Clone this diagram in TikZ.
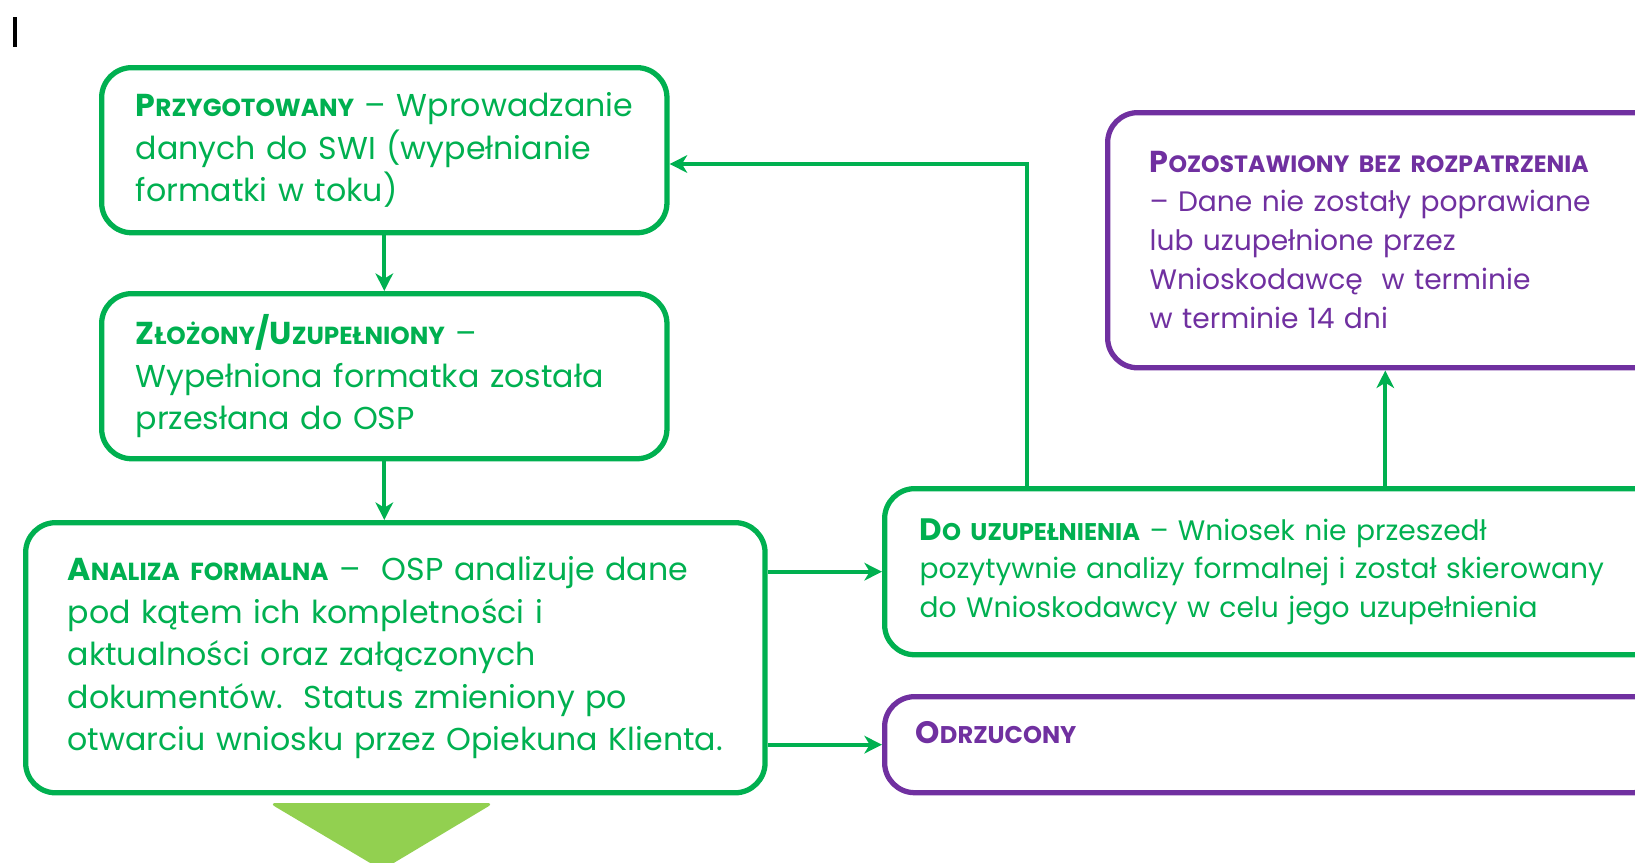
\documentclass[tikz,border=0pt]{standalone}
\usepackage{fontspec}
\setmainfont{Poppins}
\usetikzlibrary{arrows.meta}
\definecolor{stgreen}{HTML}{00B050}
\definecolor{stpurple}{HTML}{7030A0}
\definecolor{lightgreen}{HTML}{92D050}
\makeatletter
\newcommand\stat[2]{{\bfseries #1\fontsize{\fpeval{0.78*\f@size}}{\f@baselineskip}\selectfont #2}}
\makeatother
\tikzset{
  status/.style={draw=stgreen, text=stgreen, line width=1.5pt, rounded corners=0.3cm,
    align=left, inner ysep=0pt, anchor=north west},
  closed/.style={status, draw=stpurple, text=stpurple},
  flow/.style={draw=stgreen, line width=1.1pt, -{Stealth[length=5pt,width=5pt,inset=1.5pt]}},
}

\begin{document}
\begin{tikzpicture}[x=0.01cm, y=-0.01cm]
\useasboundingbox (0,0) rectangle (1635,863);
\draw[line width=0.9pt] (15,17) -- (15,47);

% left column
\node[status, minimum width=5.65cm, minimum height=1.65cm, text width=4.97cm, inner xsep=0.34cm,
  font=\fontsize{9}{12.1}\selectfont] (prep) at (99,65)
  {\mbox{\stat{P}{RZYGOTOWANY} – Wprowadzanie}\\ danych do SWI (wypełnianie\\ formatki w toku)};
\node[status, minimum width=5.65cm, minimum height=1.65cm, text width=4.97cm, inner xsep=0.34cm,
  font=\fontsize{9}{12.1}\selectfont] (sub) at (99,291)
  {\stat{Z}{ŁOŻONY}{\bfseries/}\stat{U}{ZUPEŁNIONY} –\\ Wypełniona formatka została\\ przesłana do OSP};
\node[status, minimum width=7.39cm, minimum height=2.70cm, text width=6.55cm, inner xsep=0.42cm,
  font=\fontsize{9}{12.1}\selectfont] (anal) at (23,520)
  {\stat{A}{NALIZA FORMALNA} –\ \ OSP analizuje dane\\ pod kątem ich kompletności i\\
   aktualności oraz załączonych\\ dokumentów.\ \ Status zmieniony po\\ otwarciu wniosku przez Opiekuna Klienta.};

% right column
\node[closed, minimum width=5.55cm, minimum height=2.55cm, text width=4.71cm, inner xsep=0.42cm,
  font=\fontsize{8}{11.1}\selectfont] (left) at (1105,110)
  {{\fontsize{8.6}{11.1}\selectfont\stat{P}{OZOSTAWIONY BEZ ROZPATRZENIA}}\\ – Dane nie zostały poprawiane\\
   lub uzupełnione przez\\ Wnioskodawcę\ \ w terminie\\ w terminie 14 dni};
\node[status, minimum width=7.78cm, minimum height=1.66cm, text width=7.08cm, inner xsep=0.35cm,
  font=\fontsize{8}{11}\selectfont] (comp) at (882,486)
  {{\fontsize{8.8}{11}\selectfont\stat{D}{O UZUPEŁNIENIA}} – Wniosek nie przeszedł\\
   pozytywnie analizy formalnej i został skierowany\\ do Wnioskodawcy w celu jego uzupełnienia};
\node[closed, minimum width=7.78cm, minimum height=0.96cm, text width=7.16cm, inner xsep=0.31cm,
  text depth=0.25cm, font=\fontsize{8.8}{11}\selectfont] (rej) at (882,694)
  {\stat{O}{DRZUCONY}};

\draw[flow] (prep) -- (sub);
\draw[flow] (sub.south) -- (sub.south |- anal.north);
\draw[flow] (anal.east |- comp.west) -- (comp.west);
\draw[flow] (anal.east |- rej.west) -- (rej.west);
\coordinate (back) at (1027,164);
\draw[flow] (back |- comp.north) -- (back) -- (prep.east |- back);
\draw[flow] (left.south |- comp.north) -- (left.south);

\fill[lightgreen, rounded corners=2pt] (269,803) -- (494,803) -- (382,870) -- cycle;
\end{tikzpicture}
\end{document}
